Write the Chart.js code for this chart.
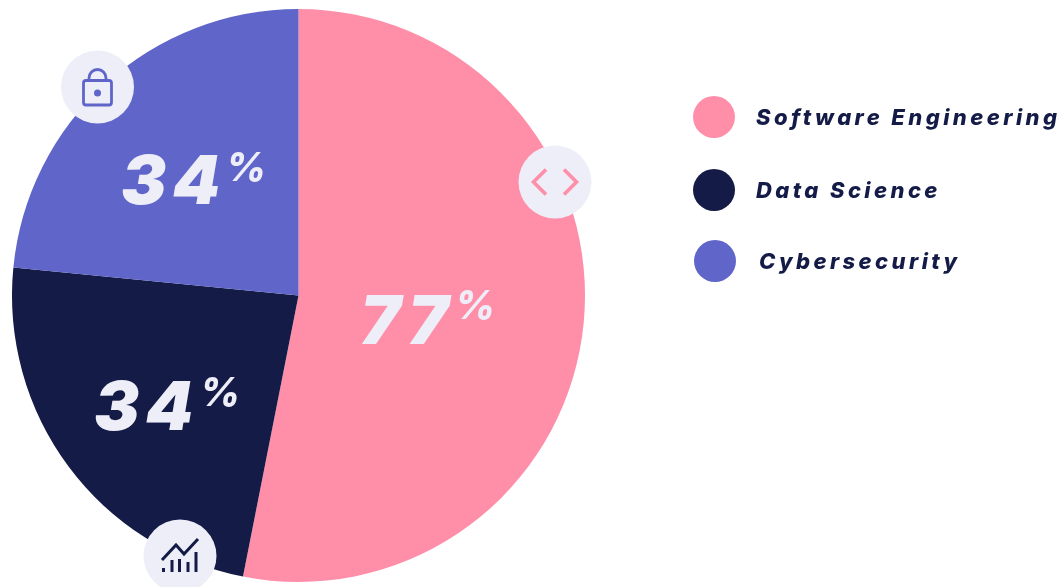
<!DOCTYPE html>
<html><head><meta charset="utf-8">
<style>html,body{margin:0;padding:0;background:#fff;overflow:hidden}canvas{display:block}#w{position:relative;width:1061px;height:587px}</style>
<script src="https://cdn.jsdelivr.net/npm/chart.js@4"></script>
</head><body><div id="w"><canvas id="c"></canvas></div>
<script>
const categories = ["Software Engineering", "Data Science", "Cybersecurity"];
const values = [77, 34, 34];
const colors = ["#FF8FA9", "#141B47", "#5F65C9"];
const labelColor = "#EEEEF8";
const textColor = "#141B47";

const numberPos = [[360, 344], [94, 430], [121, 204]];
const percentPos = [[455, 319], [200, 406], [226, 181]];
const legendPos = [[714, 117, 756, 125], [714, 190, 756, 198], [715, 261, 759, 269]];
const badgePos = [[555, 182], [180, 556], [97.5, 87]];

function drawCode(ctx, x, y) {
  ctx.strokeStyle = colors[0]; ctx.lineWidth = 3.6; ctx.lineCap = "butt"; ctx.lineJoin = "miter";
  ctx.beginPath(); ctx.moveTo(x-9, y-12.5); ctx.lineTo(x-21.5, y); ctx.lineTo(x-9, y+12.5); ctx.stroke();
  ctx.beginPath(); ctx.moveTo(x+9, y-12.5); ctx.lineTo(x+21.5, y); ctx.lineTo(x+9, y+12.5); ctx.stroke();
}
function drawLock(ctx, x, y) {
  ctx.strokeStyle = colors[2]; ctx.fillStyle = colors[2]; ctx.lineWidth = 2.8;
  ctx.beginPath(); ctx.roundRect(x-14, y-6.5, 28, 24.5, 2.5); ctx.stroke();
  ctx.beginPath(); ctx.moveTo(x-8.5, y-6.5); ctx.lineTo(x-8.5, y-9); ctx.arc(x, y-9, 8.5, Math.PI, 0); ctx.lineTo(x+8.5, y-6.5); ctx.stroke();
  ctx.beginPath(); ctx.arc(x, y+6, 3.5, 0, Math.PI*2); ctx.fill();
}
function drawTrend(ctx, x, y) {
  ctx.strokeStyle = colors[1]; ctx.lineWidth = 3; ctx.lineJoin = "miter";
  ctx.beginPath(); ctx.moveTo(x-18, y+4); ctx.lineTo(x-4, y-11); ctx.lineTo(x+4, y-2); ctx.lineTo(x+18, y-17); ctx.stroke();
  ctx.fillStyle = colors[1];
  [[-18,12,4],[-9.5,4,12],[-2,3,13],[6.5,6,10],[14.5,-4,20]].forEach(b => ctx.fillRect(x+b[0], y+b[1], 3, b[2]));
}
const iconFns = [drawCode, drawTrend, drawLock];

const overlay = {
  id: "overlay",
  afterDraw(chart) {
    const ctx = chart.ctx;
    ctx.save();
    ctx.textBaseline = "alphabetic"; ctx.textAlign = "left";
    values.forEach((v, i) => {
      ctx.fillStyle = labelColor;
      ctx.font = "italic 900 68px Inter";
      ctx.letterSpacing = "6px";
      ctx.fillText(String(v), numberPos[i][0], numberPos[i][1]);
      ctx.font = "italic 800 39px Inter";
      ctx.letterSpacing = "0px";
      ctx.fillText("%", percentPos[i][0], percentPos[i][1]);
    });
    badgePos.forEach((p, i) => {
      ctx.fillStyle = labelColor;
      ctx.beginPath(); ctx.arc(p[0], p[1], 36.5, 0, Math.PI*2); ctx.fill();
      iconFns[i](ctx, p[0], p[1]);
    });
    categories.forEach((name, i) => {
      const p = legendPos[i];
      ctx.fillStyle = colors[i];
      ctx.beginPath(); ctx.arc(p[0], p[1], 21, 0, Math.PI*2); ctx.fill();
      ctx.fillStyle = textColor;
      ctx.font = "italic 800 22px Inter";
      ctx.letterSpacing = "3.4px";
      ctx.fillText(name, p[2], p[3]);
    });
    ctx.restore();
  }
};

document.fonts.load("italic 900 68px Inter").finally(() => {
  new Chart(document.getElementById("c"), {
    type: "pie",
    data: { labels: categories, datasets: [{ data: values, backgroundColor: colors, borderWidth: 0, hoverOffset: 0 }] },
    options: {
      responsive: true, maintainAspectRatio: false, animation: false,
      layout: { padding: { left: 12, right: 476, top: 9, bottom: 5 } },
      plugins: { legend: { display: false }, tooltip: { enabled: false } }
    },
    plugins: [overlay]
  });
});
</script></body></html>
